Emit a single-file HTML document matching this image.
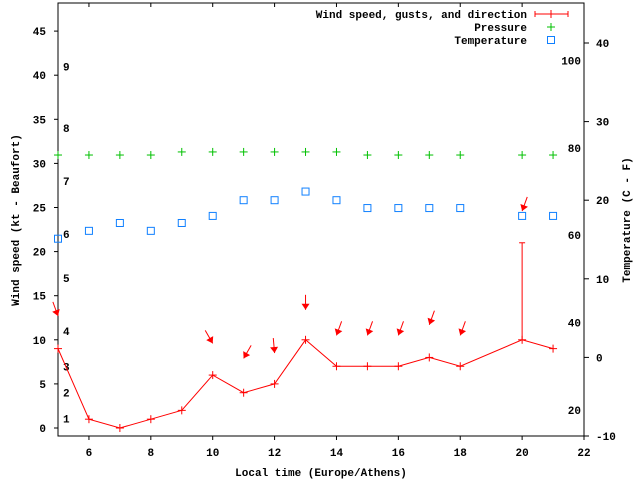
<!DOCTYPE html>
<html><head><meta charset="utf-8">
<style>
html,body{margin:0;padding:0;background:#fff;}
svg{display:block;font-family:"Liberation Mono",monospace;font-weight:bold;font-size:11px;}
</style></head>
<body>
<svg id="chart" width="640" height="480" viewBox="0 0 640 480" xmlns="http://www.w3.org/2000/svg"></svg>
<script>
const hours = [5,6,7,8,9,10,11,12,13,14,15,16,17,18,20,21];
const windKt = [9,1,0,1,2,6,4,5,10,7,7,7,8,7,10,9];
const gustKt = [null,null,null,null,null,null,null,null,null,null,null,null,null,null,21,null];
const arrowHours = [5,10,11,12,13,14,15,16,17,18,20];
const arrowKt = [12.7,9.6,7.9,8.5,13.4,10.5,10.5,10.5,11.7,10.5,24.6];
const arrowAngle = [160,150,-150,175,180,-160,-160,-160,-160,-160,-160];
const pressureVals = [30.95,30.95,30.95,30.95,31.3,31.3,31.3,31.3,31.3,31.3,30.95,30.95,30.95,30.95,30.95,30.95];
const tempC = [15.1,16.1,17.1,16.1,17.1,18.0,20.0,20.0,21.1,20.0,19.0,19.0,19.0,19.0,18.0,18.0];
const xTicks = [6,8,10,12,14,16,18,20,22];
const yTicks = [0,5,10,15,20,25,30,35,40,45];
const cTicks = [-10,0,10,20,30,40];
const fTicks = [20,40,60,80,100];
const beaufortLabels = ["1","2","3","4","5","6","7","8","9"];
const beaufortKt = [1.1,4,7,11,17,22,28,34,41];

const L=58,R=584,T=3,B=436;
const x = h => L + (h-5)*(R-L)/17;
const y = v => 428 - v*8.82;
const yC = c => 357.4 - c*7.86;
const svg = document.getElementById('chart');
const NS='http://www.w3.org/2000/svg';
function mk(tag, attrs, parent){const e=document.createElementNS(NS,tag);for(const k in attrs)e.setAttribute(k,attrs[k]);(parent||svg).appendChild(e);return e;}
function txt(s,xx,yy,anchor,parent){const t=mk('text',{x:xx,y:yy,'text-anchor':anchor||'middle'},parent);t.textContent=s;return t;}

// frame
const frame=mk('rect',{x:L,y:T,width:R-L,height:B-T,fill:'none',stroke:'#000','stroke-width':1});



xTicks.forEach(h=>{
  const g=mk('g',{});
  
  
  mk('line',{x1:x(h),x2:x(h),y1:B,y2:B+4,stroke:'#000'},g);
  mk('line',{x1:x(h),x2:x(h),y1:T,y2:T+4,stroke:'#000'},g);
  txt(String(h),x(h),B+20,'middle',g);
});
yTicks.forEach(v=>{
  const g=mk('g',{});
  
  
  mk('line',{x1:L-4,x2:L,y1:y(v),y2:y(v),stroke:'#000'},g);
  txt(String(v),46,y(v)+4,'end',g);
});
cTicks.forEach(c=>{
  const g=mk('g',{});
  
  
  mk('line',{x1:R,x2:R+5,y1:yC(c),y2:yC(c),stroke:'#000'},g);
  txt(String(c),596,yC(c)+4,'start',g);
});
fTicks.forEach(f=>{
  const t=txt(String(f),581,yC((f-32)*5/9)+4,'end');
  
  
});
beaufortLabels.forEach((s,i)=>{
  const t=txt(s,63,y(beaufortKt[i])+4,'start');
  
  
});

// axis titles
const xt=txt('Local time (Europe/Athens)',321,476,'middle');


const yt=txt('Wind speed (kt - Beaufort)',0,0,'middle');
yt.setAttribute('transform','translate(19,220) rotate(-90)');


const y2t=txt('Temperature (C - F)',0,0,'middle');
y2t.setAttribute('transform','translate(630,220) rotate(-90)');



// pressure
pressureVals.forEach((p,i)=>{
  const g=mk('g',{stroke:'#00c000'});
  
  
  const cx=x(hours[i]),cy=y(p);
  mk('line',{x1:cx-4,x2:cx+4,y1:cy,y2:cy},g);
  mk('line',{x1:cx,x2:cx,y1:cy-4,y2:cy+4},g);
});
// temperature
tempC.forEach((c,i)=>{
  const r=mk('rect',{x:x(hours[i])-3.5,y:yC(c)-3.5,width:7,height:7,fill:'none',stroke:'#1080ff','stroke-width':1});
  
  
});
// wind line
const wl=mk('polyline',{points:hours.map((h,i)=>x(h)+','+y(windKt[i])).join(' '),fill:'none',stroke:'#f00','stroke-width':1});


hours.forEach((h,i)=>{
  const g=mk('g',{stroke:'#f00'});
  
  
  const cx=x(h),cy=y(windKt[i]);
  mk('line',{x1:cx-4,x2:cx+4,y1:cy,y2:cy},g);
  mk('line',{x1:cx,x2:cx,y1:cy-4,y2:cy+4},g);
  if(gustKt[i]!=null){
    const gy=y(gustKt[i]);
    mk('line',{x1:cx,x2:cx,y1:cy,y2:gy},g);
    mk('line',{x1:cx-3,x2:cx+3,y1:gy,y2:gy},g);
  }
});
// direction arrows
arrowHours.forEach((h,i)=>{
  const g=mk('g',{transform:`translate(${x(h)},${y(arrowKt[i])}) rotate(${arrowAngle[i]})`});
  
  
  mk('line',{x1:0,y1:0,x2:0,y2:15,stroke:'#f00','stroke-width':1},g);
  mk('polygon',{points:'0,0 -4,-6 4,-6',fill:'#f00',transform:'rotate(180)'},g);
});

// legend
const lg=mk('g',{});


const l1=txt('Wind speed, gusts, and direction',527,18,'end',lg);


mk('line',{x1:535,x2:568,y1:14,y2:14,stroke:'#f00'},lg);
mk('line',{x1:535,x2:535,y1:11,y2:17,stroke:'#f00'},lg);
mk('line',{x1:568,x2:568,y1:11,y2:17,stroke:'#f00'},lg);
mk('line',{x1:551,x2:551,y1:10,y2:18,stroke:'#f00'},lg);
const l2=txt('Pressure',527,31,'end',lg);


mk('line',{x1:547,x2:555,y1:27,y2:27,stroke:'#00c000'},lg);
mk('line',{x1:551,x2:551,y1:23,y2:31,stroke:'#00c000'},lg);
const l3=txt('Temperature',527,44,'end',lg);


mk('rect',{x:547.5,y:36.5,width:7,height:7,fill:'none',stroke:'#1080ff'},lg);
</script>
</body></html>
